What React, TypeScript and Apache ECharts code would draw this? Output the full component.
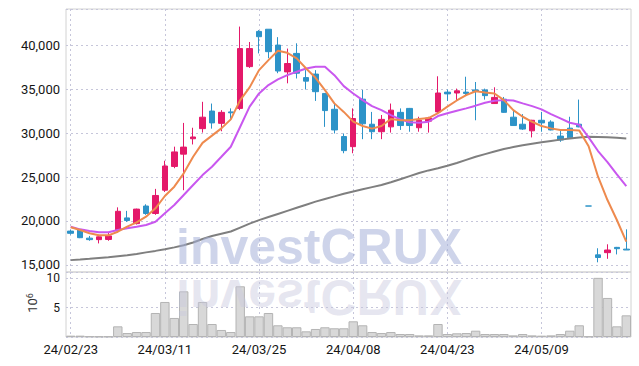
import React, { useEffect, useRef } from 'react';
import * as echarts from 'echarts';

const dates = [
  '24/02/23', '24/02/26', '24/02/27', '24/02/28', '24/02/29', '24/03/04', '24/03/05', '24/03/06', '24/03/07', '24/03/08',
  '24/03/11', '24/03/12', '24/03/13', '24/03/14', '24/03/15', '24/03/18', '24/03/19', '24/03/20', '24/03/21', '24/03/22',
  '24/03/25', '24/03/26', '24/03/27', '24/03/28', '24/03/29', '24/04/01', '24/04/02', '24/04/03', '24/04/04', '24/04/05',
  '24/04/08', '24/04/09', '24/04/11', '24/04/12', '24/04/15', '24/04/16', '24/04/17', '24/04/18', '24/04/19', '24/04/22',
  '24/04/23', '24/04/24', '24/04/25', '24/04/26', '24/04/29', '24/04/30', '24/05/02', '24/05/03', '24/05/07', '24/05/08',
  '24/05/09', '24/05/10', '24/05/13', '24/05/14', '24/05/16', '24/05/17', '24/05/20', '24/05/21', '24/05/22', '24/05/23',
];

const opens = [
  18850, 19000, 18050, 17880, 17900, 18950, 20350, 19700, 21700, 20850,
  23500, 26200, 27600, 29350, 30500, 32500, 31100, 32400, 32800, 37550,
  41550, 41800, 40000, 36950, 39050, 36300, 36700, 34500, 32700, 29600,
  28450, 33850, 31000, 30150, 30700, 32350, 32800, 30600, 31350, 32400,
  34650, 34550, 34650, 34900, 34900, 33350, 33850, 31800, 31000, 30250,
  31450, 31250, 29650, 30550, 31000, 21700, 16150, 16400, 17000, 16800,
];
const closes = [
  18600, 18100, 17880, 18200, 18300, 21100, 20050, 21350, 20850, 22900,
  26250, 27850, 28400, 29550, 31800, 31150, 32350, 32300, 39600, 39600,
  40950, 39250, 37050, 37900, 36800, 35900, 34700, 32550, 30350, 28000,
  31650, 31050, 30150, 31550, 32600, 30850, 30850, 31450, 31700, 34550,
  34450, 34800, 34500, 34750, 34250, 34050, 32350, 30850, 30450, 31450,
  31150, 30350, 29200, 29450, 30700, 21700, 15850, 16700, 16850, 16700,
];
const lows = [
  18450, 18050, 17750, 17450, 17750, 18800, 19900, 19600, 20700, 20700,
  23300, 26000, 23500, 28700, 30050, 30500, 30200, 31450, 32600, 37400,
  39050, 38500, 36800, 35650, 36200, 34950, 33650, 30700, 29950, 27700,
  27700, 29300, 29300, 29300, 30050, 30350, 30150, 30150, 30050, 32150,
  33650, 33750, 34300, 31450, 33800, 33300, 32300, 30800, 30350, 29500,
  30150, 30300, 29000, 29450, 30650, 21700, 15300, 15700, 16200, 16700,
];
const highs = [
  19000, 19100, 18300, 18250, 18650, 21550, 21150, 21400, 21900, 23650,
  26850, 28450, 31150, 30600, 33550, 33350, 32600, 32800, 42100, 40350,
  41700, 41800, 40900, 39600, 40200, 37150, 37150, 34500, 33350, 29950,
  32800, 34900, 32400, 32050, 33350, 32800, 32850, 31850, 31850, 36450,
  34950, 35050, 36400, 35800, 35050, 35200, 34100, 32600, 32150, 31500,
  32400, 31450, 30450, 31850, 33800, 21700, 16900, 17350, 17050, 19050,
];

const ma5 = [
  19280, 18980, 18600, 18370, 18370, 18780, 19350, 19850, 20490, 21440,
  22840, 23900, 25420, 27300, 28880, 29700, 30530, 31550, 33740, 35190,
  37150, 38290, 39350, 39120, 38480, 37340, 36280, 34880, 33370, 32400,
  31300, 30800, 30500, 30800, 31600, 31450, 31450, 31600, 31700, 32250,
  33000, 33700, 34300, 34750, 34620, 34500, 33740, 32610, 31850, 31280,
  30790, 30530, 30340, 30340, 30300, 28500, 25030, 22380, 20110, 17650,
];
const ma10 = [
  19350, 19050, 18860, 18710, 18710, 18980, 19170, 19350, 19540, 19920,
  20870, 21820, 22950, 24090, 25220, 26170, 27300, 28440, 30710, 33000,
  34500, 35450, 36090, 36580, 36960, 37340, 37530, 37530, 36580, 35330,
  34500, 33740, 33060, 32610, 32040, 31550, 31220, 31170, 31280, 31930,
  32240, 32530, 32800, 33110, 33440, 33670, 33740, 33700, 33370, 33060,
  32690, 32150, 31670, 31170, 30950, 29500, 27950, 26700, 25300, 23950,
];
const maLong = [
  15550, 15620, 15700, 15790, 15880, 15990, 16100, 16250, 16430, 16600,
  16790, 17000, 17250, 17550, 17950, 18300, 18550, 18800, 19250, 19700,
  20100, 20450, 20800, 21150, 21500, 21850, 22200, 22500, 22800, 23100,
  23350, 23600, 23850, 24100, 24400, 24750, 25100, 25450, 25750, 26000,
  26280, 26600, 26950, 27300, 27600, 27900, 28180, 28400, 28600, 28780,
  28940, 29100, 29250, 29390, 29500, 29580, 29560, 29510, 29450, 29390,
];

// volume in millions (10^6)
const volumes = [
  0.23, 0.23, 0.12, 0.1, 0.1, 1.82, 0.68, 0.85, 0.85, 4.1,
  5.98, 3.25, 7.8, 2.22, 5.98, 2.22, 1.2, 0.85, 8.66, 3.53,
  3.53, 4.1, 2.0, 1.66, 1.66, 0.97, 1.37, 1.66, 1.49, 1.49,
  2.68, 2.0, 0.85, 0.68, 0.85, 0.51, 0.51, 0.28, 0.28, 2.22,
  0.51, 0.63, 0.68, 1.08, 0.51, 0.51, 0.51, 0.28, 0.51, 0.28,
  0.23, 0.28, 0.51, 1.08, 2.0, 0.1, 10.1, 6.67, 1.82, 3.7,
];

const UP = '#e4196a';
const DOWN = '#2d93c8';
const GRID_LINE = '#c6c6da';
const FONT = 'Roboto';

export default function App() {
  const ref = useRef<HTMLDivElement>(null);
  useEffect(() => {
    const chart = echarts.init(ref.current!, null, { renderer: 'svg' });
    const candles = dates.map((_, i) => [opens[i], closes[i], lows[i], highs[i]]);
    const splitLineX = {
      show: true,
      interval: 9,
      alignWithLabel: true,
      lineStyle: { color: GRID_LINE, type: [2, 3], width: 1 },
    };
    const splitLineY = { show: true, lineStyle: { color: GRID_LINE, type: [2, 3], width: 1 } };
    const labelStyle = { color: '#151515', fontFamily: FONT, fontSize: 13 };
    chart.setOption({
      animation: false,
      grid: [
        { left: 66, right: 8, top: 9, height: 263, show: true, borderColor: '#d2d2d2', borderWidth: 1 },
        { left: 66, right: 8, top: 272, height: 65, show: true, borderColor: '#d2d2d2', borderWidth: 1 },
      ],
      xAxis: [
        {
          type: 'category', gridIndex: 0, data: dates, boundaryGap: true,
          axisLine: { show: false }, axisTick: { show: false },
          axisLabel: { show: false, interval: 9 },
          splitLine: splitLineX,
        },
        {
          type: 'category', gridIndex: 1, data: dates, boundaryGap: true,
          axisLine: { show: false }, axisTick: { show: false },
          axisLabel: { ...labelStyle, interval: 9, margin: 6 },
          splitLine: splitLineX,
        },
      ],
      yAxis: [
        {
          type: 'value', gridIndex: 0, min: 14200, max: 44100, splitNumber: 6,
          axisLine: { show: false }, axisTick: { show: false },
          axisLabel: {
            ...labelStyle, lineHeight: 12, margin: 6, padding: [0, 0, 2, 0],
            formatter: (v: number) => (v % 5000 === 0 ? v.toLocaleString('en-US') : ''),
          },
          splitLine: splitLineY,
        },
        {
          type: 'value', gridIndex: 1, min: 0, max: 11.1, interval: 5,
          axisLine: { show: false }, axisTick: { show: false },
          axisLabel: {
            ...labelStyle, fontSize: 12, lineHeight: 11, margin: 6, padding: [3, 0, 0, 0],
            formatter: (v: number) => (v === 5 || v === 10 ? String(v) : ''),
          },
          splitLine: splitLineY,
        },
      ],
      series: [
        {
          type: 'bar', xAxisIndex: 1, yAxisIndex: 1, data: volumes,
          barCategoryGap: '0%',
          itemStyle: { color: '#d8d8d8', borderColor: '#b4b4b4', borderWidth: 1 },
          z: 1,
        },
        {
          type: 'candlestick', xAxisIndex: 0, yAxisIndex: 0, data: candles,
          barWidth: 6,
          itemStyle: { color: UP, color0: DOWN, borderColor: UP, borderColor0: DOWN, borderWidth: 1 },
          z: 2,
        },
        {
          type: 'line', xAxisIndex: 0, yAxisIndex: 0, data: maLong, showSymbol: false,
          lineStyle: { color: '#7f7f7f', width: 2 }, z: 3,
        },
        {
          type: 'line', xAxisIndex: 0, yAxisIndex: 0, data: ma10, showSymbol: false,
          lineStyle: { color: '#c957ef', width: 2 }, z: 3,
        },
        {
          type: 'line', xAxisIndex: 0, yAxisIndex: 0, data: ma5, showSymbol: false,
          lineStyle: { color: '#ee8a4e', width: 2 }, z: 4,
        },
      ],
      graphic: [
        {
          type: 'text', x: 176, y: 272, z: 10,
          style: {
            text: 'investCRUX', font: 'bold 50px "Liberation Sans"',
            fill: 'rgba(165,176,216,0.55)', align: 'left', verticalAlign: 'bottom',
          },
        },
        {
          type: 'text', x: 176, y: 272, scaleY: -1, z: 10,
          style: {
            text: 'investCRUX', font: 'bold 50px "Liberation Sans"',
            fill: 'rgba(200,200,222,0.45)', align: 'left', verticalAlign: 'bottom',
          },
        },
        {
          type: 'text', x: 32, y: 303, rotation: Math.PI / 2, z: 10,
          style: {
            text: '{a|10}{b|6}',
            align: 'center', verticalAlign: 'middle',
            rich: {
              a: { fontFamily: 'Roboto', fontSize: 13, fill: '#333', verticalAlign: 'bottom' },
              b: { fontFamily: 'Roboto', fontSize: 9, fill: '#333', verticalAlign: 'top' },
            },
          },
        },
      ],
    });
    return () => chart.dispose();
  }, []);
  return <div ref={ref} style={{ position: 'absolute', left: 0, top: 0, width: 639, height: 366 }} />;
}
